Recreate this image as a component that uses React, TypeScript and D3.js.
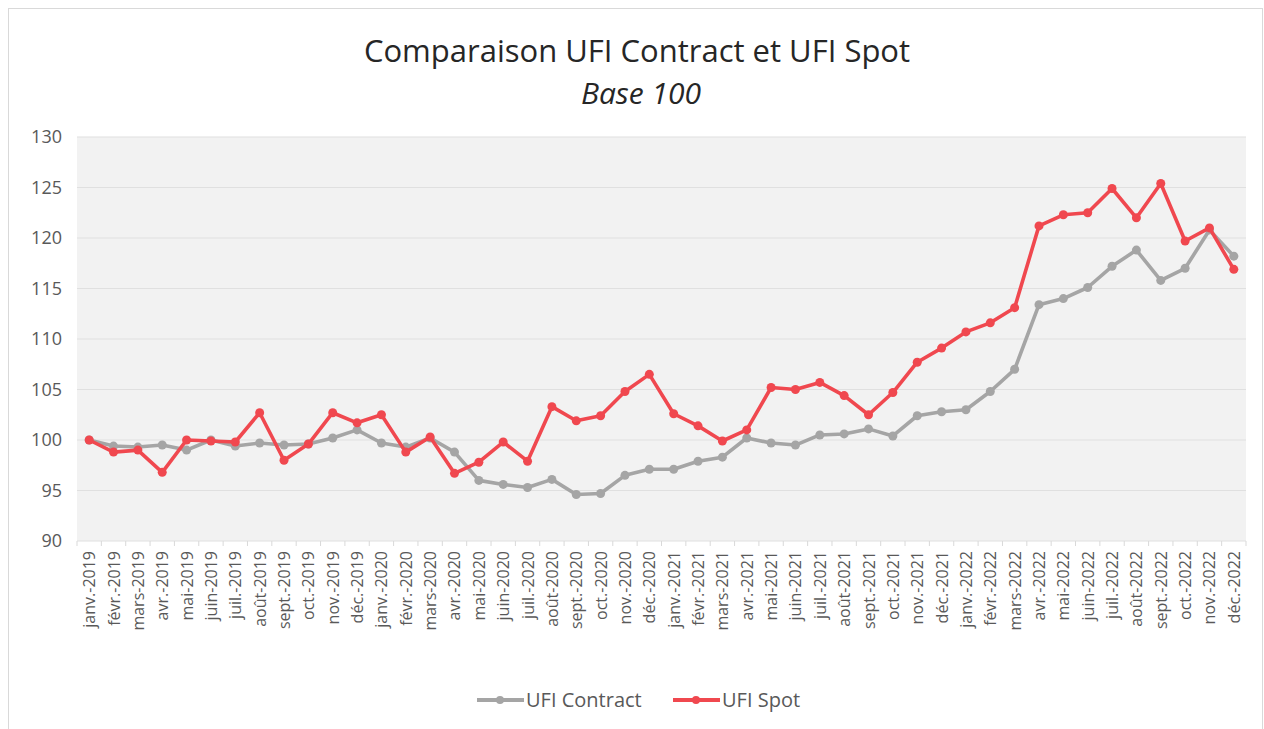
import React from "react";
import * as d3 from "d3";

const months = [
  "janv.", "févr.", "mars", "avr.", "mai", "juin",
  "juil.", "août", "sept.", "oct.", "nov.", "déc.",
];
const years = [2019, 2020, 2021, 2022];
const categories = years.flatMap((y) => months.map((m) => `${m}-${y}`));

const contract = [
  100.0, 99.4, 99.3, 99.5, 99.0, 100.0, 99.4, 99.7, 99.5, 99.6, 100.2, 101.0,
  99.7, 99.3, 100.2, 98.8, 96.0, 95.6, 95.3, 96.1, 94.6, 94.7, 96.5, 97.1,
  97.1, 97.9, 98.3, 100.2, 99.7, 99.5, 100.5, 100.6, 101.1, 100.4, 102.4, 102.8,
  103.0, 104.8, 107.0, 113.4, 114.0, 115.1, 117.2, 118.8, 115.8, 117.0, 120.8, 118.2,
];
const spot = [
  100.0, 98.8, 99.0, 96.8, 100.0, 99.9, 99.8, 102.7, 98.0, 99.6, 102.7, 101.7,
  102.5, 98.8, 100.3, 96.7, 97.8, 99.8, 97.9, 103.3, 101.9, 102.4, 104.8, 106.5,
  102.6, 101.4, 99.9, 101.0, 105.2, 105.0, 105.7, 104.4, 102.5, 104.7, 107.7, 109.1,
  110.7, 111.6, 113.1, 121.2, 122.3, 122.5, 124.9, 122.0, 125.4, 119.7, 121.0, 116.9,
];
const yTicks = [90, 95, 100, 105, 110, 115, 120, 125, 130];

const series = [
  { name: "UFI Contract", values: contract, color: "#a5a5a5" },
  { name: "UFI Spot", values: spot, color: "#f0484f" },
];

const W = 1264;
const H = 729;
const font = "'Open Sans', 'Noto Sans', sans-serif";

export default function App() {
  const plot = { left: 77, right: 1246, top: 137, bottom: 541 };

  const x = d3
    .scaleBand<string>()
    .domain(categories)
    .range([plot.left, plot.right]);

  const y = d3.scaleLinear().domain([90, 130]).range([plot.bottom, plot.top]);

  const cx = (i: number) => (x(categories[i]) ?? 0) + x.bandwidth() / 2;

  const line = d3
    .line<number>()
    .x((_, i) => cx(i))
    .y((d) => y(d));

  return (
    <svg
      width={W}
      height={H}
      style={{ position: "absolute", left: 0, top: 0, background: "#fff" }}
    >
      <rect x={8.5} y={8.5} width={1254} height={740} fill="#fff" stroke="#d9d9d9" />

      {/* titre */}
      <text x={637} y={62} textAnchor="middle" fontFamily={font} fontSize={31} fill="#262626">
        Comparaison UFI Contract et UFI Spot
      </text>
      <text x={641} y={104} textAnchor="middle" fontFamily={font} fontSize={30} fontStyle="italic" fill="#262626">
        Base 100
      </text>

      {/* zone de tracé */}
      <rect
        x={plot.left}
        y={plot.top}
        width={plot.right - plot.left}
        height={plot.bottom - plot.top}
        fill="#f2f2f2"
      />

      {/* grille + axe Y */}
      {yTicks.map((t) => (
        <g key={t}>
          <line x1={plot.left} x2={plot.right} y1={y(t)} y2={y(t)} stroke="#e0e0e0" strokeWidth={1.2} />
          <text
            x={62}
            y={y(t)}
            dy="0.35em"
            textAnchor="end"
            fontFamily={font}
            fontSize={18}
            fill="#595959"
          >
            {t}
          </text>
        </g>
      ))}

      {/* graduations X */}
      {categories.map((c, i) => {
        const bx = x(c) ?? 0;
        return (
          <g key={c}>
            <line x1={bx} x2={bx} y1={plot.bottom} y2={plot.bottom + 5} stroke="#d9d9d9" />
            {i === categories.length - 1 && (
              <line
                x1={bx + x.bandwidth()}
                x2={bx + x.bandwidth()}
                y1={plot.bottom}
                y2={plot.bottom + 5}
                stroke="#d9d9d9"
              />
            )}
            <text
              transform={`translate(${cx(i) + 6}, 551) rotate(-90)`}
              textAnchor="end"
              fontFamily={font}
              fontSize={16}
              fill="#595959"
            >
              {c}
            </text>
          </g>
        );
      })}

      {/* séries */}
      {series.map((s) => (
        <g key={s.name}>
          <path d={line(s.values) ?? ""} fill="none" stroke={s.color} strokeWidth={3.6} strokeLinejoin="round" />
          {s.values.map((v, i) => (
            <circle key={i} cx={cx(i)} cy={y(v)} r={4.5} fill={s.color} />
          ))}
        </g>
      ))}

      {/* légende */}
      {series.map((s, i) => {
        const lx = i === 0 ? 477 : 673;
        return (
          <g key={s.name}>
            <line x1={lx} x2={lx + 47} y1={700} y2={700} stroke={s.color} strokeWidth={4} />
            <circle cx={lx + 23} cy={700} r={4} fill={s.color} />
            <text x={lx + 49} y={700} dy="0.35em" fontFamily={font} fontSize={20} fill="#595959">
              {s.name}
            </text>
          </g>
        );
      })}
    </svg>
  );
}
